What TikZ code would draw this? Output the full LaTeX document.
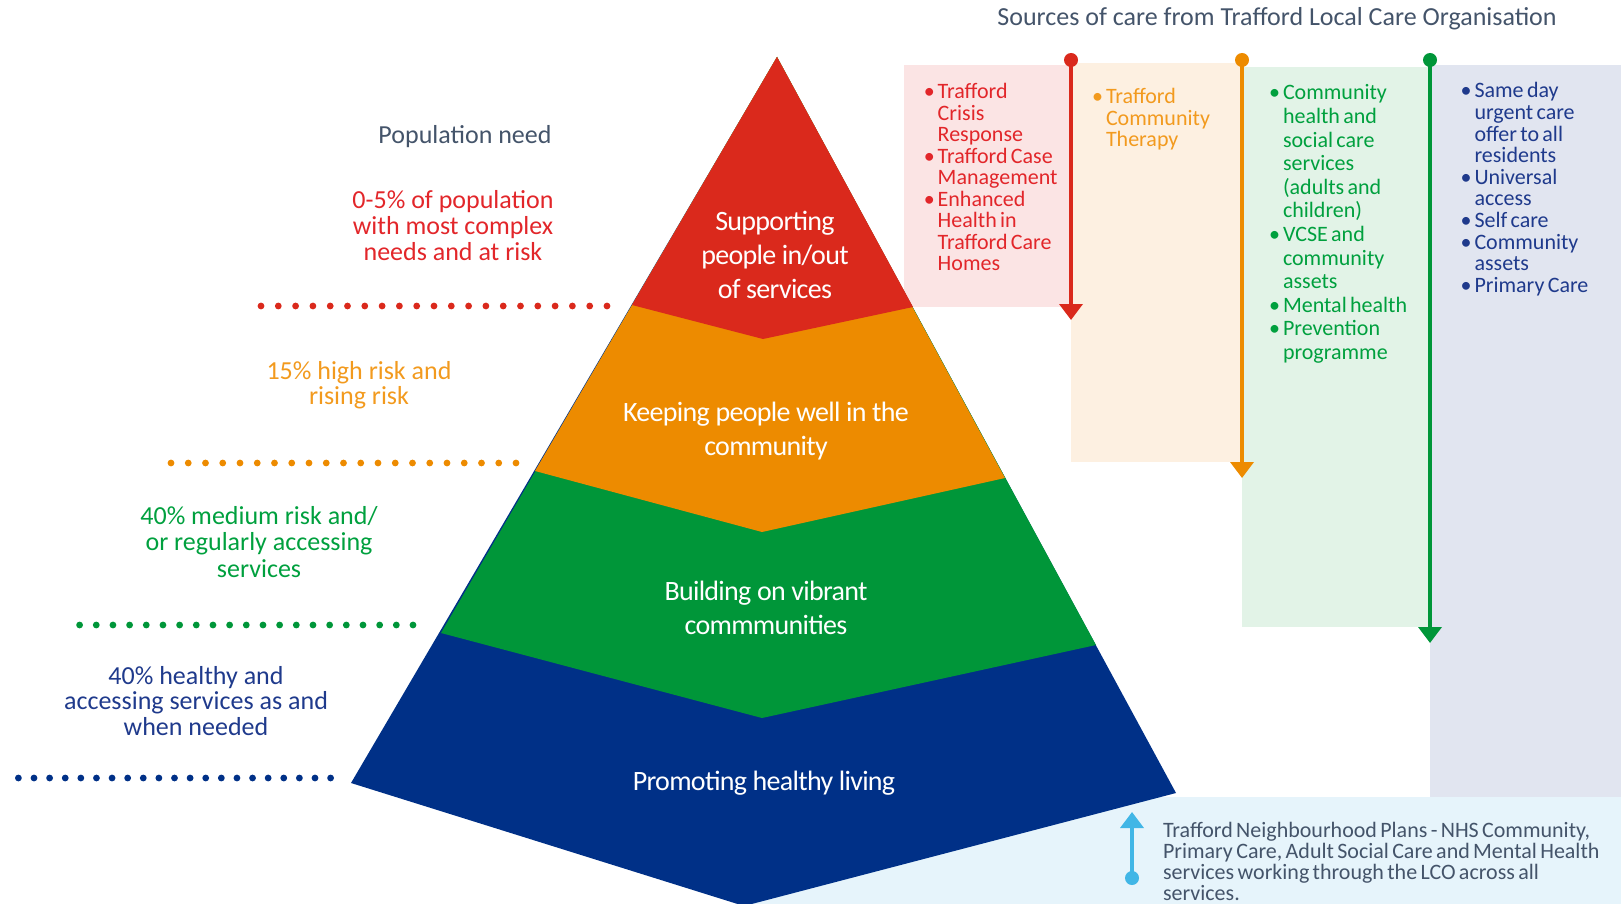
\documentclass[tikz,border=0pt]{standalone}
\usepackage{fontspec}
\setmainfont{Carlito}
\newfontfamily\bandfont[LetterSpace=-2.5]{Carlito}
\usetikzlibrary{arrows.meta}
\definecolor{nhsred}{HTML}{DA291C}
\definecolor{nhsorange}{HTML}{ED8B00}
\definecolor{nhsgreen}{HTML}{009639}
\definecolor{nhsblue}{HTML}{003087}
\definecolor{txtred}{HTML}{E2262A}
\definecolor{txtorange}{HTML}{F29A1E}
\definecolor{txtgreen}{HTML}{00A03E}
\definecolor{txtblue}{HTML}{1F3A8C}
\definecolor{textgrey}{HTML}{44546A}
\definecolor{pinkbg}{HTML}{FBE4E4}
\definecolor{peachbg}{HTML}{FDF0E1}
\definecolor{greenbg}{HTML}{E2F3E7}
\definecolor{greybg}{HTML}{E1E5F0}
\definecolor{lightbluebg}{HTML}{E6F4FB}
\definecolor{skyblue}{HTML}{41B6E6}
\newcommand{\bul}{\leavevmode\hbox to 0pt{\hss •\kern 3pt}}
\newcommand{\panelfont}[1]{\fontsize{22}{#1}\selectfont\lineskiplimit=-100pt\leftskip=12.5pt\relax}
\begin{document}
\begin{tikzpicture}[x=1pt,y=-1pt,
  bandtext/.style={anchor=base, inner sep=0pt, text width=420pt, align=flush center, text=white,
    font=\bandfont\fontsize{28}{34.2}\selectfont},
  lefttext/.style={anchor=base, inner sep=0pt, text width=330pt, align=flush center,
    font=\fontsize{26}{#1}\selectfont},
  panelnode/.style={anchor=base, inner sep=0pt, text width=190pt},
  arr/.style={draw=#1, line width=3.6pt, -{Triangle[width=23pt,length=16pt]}},
]
\useasboundingbox (0,0) rectangle (1621,904);

% background panels
\fill[lightbluebg] (750,797) rectangle (1621,904);
\fill[greybg] (1430,65) rectangle (1621,797);
\fill[greenbg] (1242,67) rectangle (1430,627);
\fill[peachbg] (1071,63) rectangle (1242,462);
\fill[pinkbg] (904,65) rectangle (1071,307);

% pyramid (layered)
\coordinate (A) at (777,57);
\fill[nhsblue] (A) -- (1176,793) -- (744,906) -- (351,783) -- cycle;
\fill[nhsgreen] (A) -- (1096,645) -- (762,718) -- (441,633) -- cycle;
\fill[nhsorange] (A) -- (1005,478) -- (762,532) -- (535,471) -- cycle;
\fill[nhsred] (A) -- (913,307) -- (763,339) -- (632,305) -- cycle;

% band texts
\node[bandtext] (sup) at (775,230) {Supporting\\people in/out\\of services};
\node[bandtext] (keep) at (766,421.6) {Keeping people well in the\\community};
\node[bandtext] (build) at (766,600.6) {Building on vibrant\\commmunities};
\node[bandtext] (prom) at (764,790) {Promoting healthy living};

% left texts
\node[lefttext=26, text=textgrey] (popneed) at (465,144) {Population need};
\node[lefttext=26, text=txtred] (needred) at (453,208) {0-5\% of population\\with most complex\\needs and at risk};
\node[lefttext=25, text=txtorange] (needorange) at (359,379) {15\% high risk and\\rising risk};
\node[lefttext=26.5, text=txtgreen] (needgreen) at (259,524) {40\% medium risk and/\\or regularly accessing\\services};
\node[lefttext=25.5, text=txtblue] (needblue) at (196,684) {40\% healthy and\\accessing services as and\\when needed};

% dotted separators
\foreach \i in {0,...,20} {
  \fill[nhsred] ({261+\i*17.3},306) circle (3.4pt);
  \fill[nhsorange] ({171+\i*17.25},463) circle (3.4pt);
  \fill[nhsgreen] ({79.6+\i*16.67},625) circle (3.4pt);
  \fill[nhsblue] ({18.4+\i*15.61},778) circle (3.4pt);
}

% title
\node[anchor=base, inner sep=0pt, text=textgrey, font=\fontsize{26}{30}\selectfont] (title) at (1277,26) {Sources of care from Trafford Local Care Organisation};

% panel texts (anchor base = centre of 190pt width at first baseline)
\node[panelnode, text=txtred] (pinktxt) at (1020.2,99) {\panelfont{21.5}\bul Trafford\\Crisis\\Response\\\bul Trafford Case\\Management\\\bul Enhanced\\Health in\\Trafford Care\\Homes\par};
\node[panelnode, text=txtorange] (peachtxt) at (1188.5,104) {\panelfont{21.5}\bul Trafford\\Community\\Therapy\par};
\node[panelnode, text=txtgreen] (greentxt) at (1365.5,100) {\panelfont{23.6}\bul Community\\health and\\social care\\services\\(adults and\\children)\\\bul VCSE and\\community\\assets\\\bul Mental health\\\bul Prevention\\programme\par};
\node[panelnode, text=txtblue] (greytxt) at (1557,98) {\panelfont{21.6}\bul Same day\\urgent care\\offer to all\\residents\\\bul Universal\\access\\\bul Self care\\\bul Community\\assets\\\bul Primary Care\par};

% bottom text
\node[anchor=base, inner sep=0pt, text width=520pt, text=textgrey] (lcotxt) at (1423,837)
  {\fontsize{22}{21.3}\selectfont\lineskiplimit=-100pt\relax Trafford Neighbourhood Plans - NHS Community,\\Primary Care, Adult Social Care and Mental Health\\services working through the LCO across all\\services.\par};

% arrows
\coordinate (redtop) at (1071,60);
\coordinate (redtip) at (1071,320);
\coordinate (orangetop) at (1242,60);
\coordinate (orangetip) at (1242,478);
\coordinate (greentop) at (1430,60);
\coordinate (greentip) at (1430,643);
\coordinate (lbbot) at (1132,878);
\coordinate (lbtip) at (1132,812);
\draw[arr=nhsred] (redtop) -- (redtip);
\fill[nhsred] (redtop) circle (7pt);
\draw[arr=nhsorange] (orangetop) -- (orangetip);
\fill[nhsorange] (orangetop) circle (7pt);
\draw[arr=nhsgreen] (greentop) -- (greentip);
\fill[nhsgreen] (greentop) circle (7pt);
\draw[arr=skyblue] (lbbot) -- (lbtip);
\fill[skyblue] (lbbot) circle (7pt);
\end{tikzpicture}
\end{document}
